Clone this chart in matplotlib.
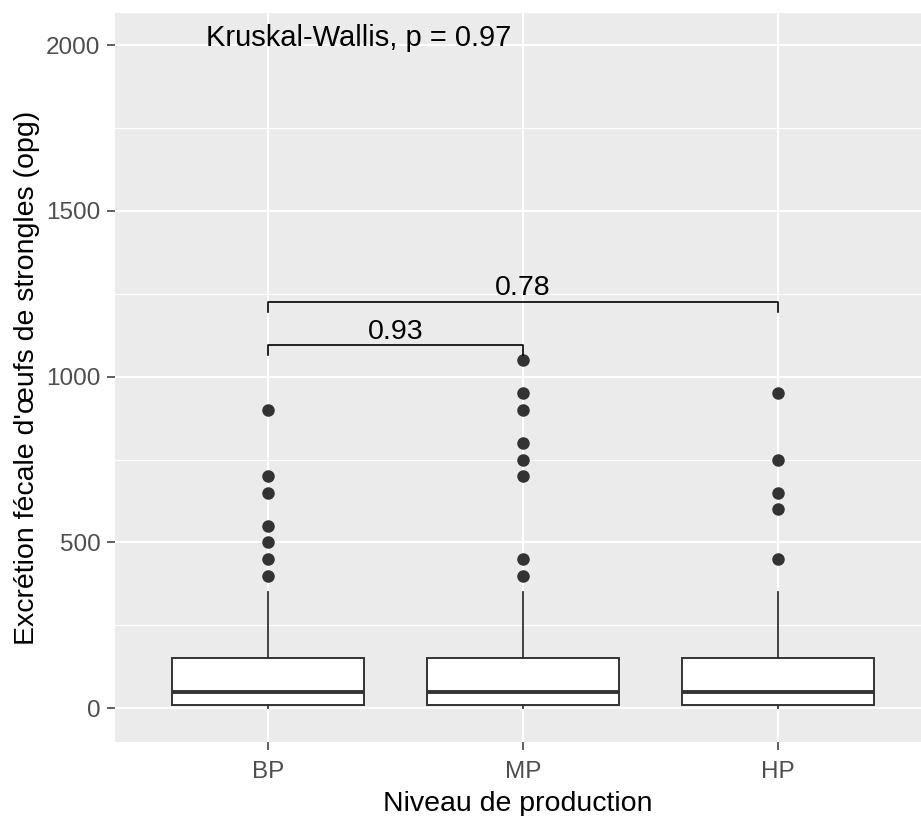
import matplotlib
matplotlib.use("Agg")
import matplotlib.pyplot as plt
from matplotlib.ticker import MultipleLocator

plt.rcParams['font.family'] = ['Liberation Sans', 'DejaVu Sans']

categories = ["BP", "MP", "HP"]
q1 = [10, 10, 10]
medians = [50, 50, 50]
q3 = [150, 150, 150]
whisker_low = [0, 0, 0]
whisker_high = [350, 350, 350]
outliers = [
    [900, 700, 650, 550, 500, 450, 400],
    [1050, 950, 900, 800, 750, 700, 450, 400],
    [950, 750, 650, 600, 450],
]
yticks = [0, 500, 1000, 1500, 2000]
comparisons = [("BP", "MP", "0.93", 1095), ("BP", "HP", "0.78", 1225)]
global_test = "Kruskal-Wallis, p = 0.97"

W, H = 921, 816
fig = plt.figure(figsize=(W / 100, H / 100), dpi=100)
left, right, top, bottom = 115, 921, 13, 742
ax = fig.add_axes([left / W, 1 - bottom / H, (right - left) / W, (bottom - top) / H])
ax.set_facecolor("#EBEBEB")

stats = []
for i, c in enumerate(categories):
    stats.append(dict(label=c, q1=q1[i], med=medians[i], q3=q3[i],
                      whislo=whisker_low[i], whishi=whisker_high[i], fliers=outliers[i]))
pos = list(range(1, len(categories) + 1))
ax.bxp(stats, positions=pos, widths=0.75, patch_artist=True, showcaps=False,
       boxprops=dict(facecolor="white", edgecolor="#333333", linewidth=1.4),
       medianprops=dict(color="#333333", linewidth=2.8),
       whiskerprops=dict(color="#333333", linewidth=1.3),
       flierprops=dict(marker="o", markerfacecolor="#333333", markeredgecolor="#333333",
                       markersize=8, linestyle="none"),
       zorder=3)

ax.set_xlim(0.4, 0.4 + (right - left) / 255)
ax.set_ylim(-102, 2097)
ax.set_xticks(pos)
ax.set_xticklabels(categories)
ax.set_yticks(yticks)
ax.yaxis.set_minor_locator(MultipleLocator(250))
ax.grid(True, which="major", color="white", linewidth=1.5, zorder=0)
ax.grid(True, which="minor", axis="y", color="white", linewidth=0.8, zorder=0)
ax.set_axisbelow(True)
for s in ax.spines.values():
    s.set_visible(False)
ax.tick_params(axis="y", which="major", length=5.5, width=1.1, color="#333333",
               labelcolor="#4D4D4D", labelsize=17.5, pad=5)
ax.tick_params(axis="x", which="major", length=5.5, width=1.1, color="#333333",
               labelcolor="#4D4D4D", labelsize=17.5, pad=8)
ax.tick_params(axis="y", which="minor", length=0)

ax.set_xlabel("Niveau de production", fontsize=20.5, color="black", labelpad=6)
ax.set_ylabel("Excrétion fécale d'œufs de strongles (opg)", fontsize=20.5, color="black", labelpad=4)

idx = {c: i + 1 for i, c in enumerate(categories)}
for a, b, lab, yv in comparisons:
    x1, x2 = idx[a], idx[b]
    drop = 30
    ax.plot([x1, x1, x2, x2], [yv - drop, yv, yv, yv - drop], color="black", linewidth=1.2, zorder=4)
    ax.text((x1 + x2) / 2, yv + 20, lab, ha="center", va="baseline", fontsize=20.5, color="black")

ax.text(0.755, 2021, global_test, ha="left", va="center", fontsize=21, color="black")

fig.savefig("out.png", dpi=100, facecolor="white")
